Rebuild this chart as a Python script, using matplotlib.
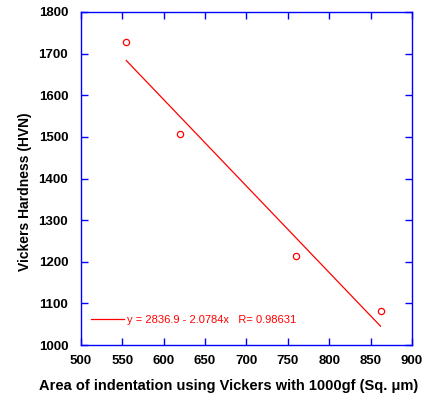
import numpy as np
import matplotlib.pyplot as plt

plt.rcParams['font.family'] = ['Liberation Sans', 'DejaVu Sans']

# measured points
area = [555, 620, 760, 862]
hvn = [1728, 1506, 1215, 1082]

# linear fit shown in the chart
a0 = 2836.9
a1 = 2.0784
r_val = 0.98631
fit_x = np.array([555, 862])
fit_y = a0 - a1 * fit_x

fig = plt.figure(figsize=(4.28, 3.98), dpi=100)
ax = fig.add_axes([0.1886, 0.133, 0.7740, 0.837])

ax.plot(fit_x, fit_y, color='red', lw=0.9,
        label='y = %.1f - %.4fx   R= %.5f' % (a0, a1, r_val))
ax.plot(area, hvn, 'o', mfc='none', mec='red', ms=4.5, mew=0.9)

ax.set_xlim(500, 900)
ax.set_ylim(1000, 1800)
ax.set_xticks(np.arange(500, 901, 50))
ax.set_yticks(np.arange(1000, 1801, 100))

for s in ax.spines.values():
    s.set_color('blue')
    s.set_linewidth(1.0)
ax.tick_params(direction='in', top=True, right=True, length=5, width=1,
               color='blue', labelsize=9.5)
ax.tick_params(axis='x', pad=7)
ax.tick_params(axis='y', pad=9)
for lab in ax.get_xticklabels() + ax.get_yticklabels():
    lab.set_fontweight('bold')

ax.set_xlabel('Area of indentation using Vickers with 1000gf (Sq. \u03bcm)',
              fontsize=10.5, fontweight='bold')
ax.xaxis.set_label_coords(0.446, -0.102)
ax.set_ylabel('Vickers Hardness (HVN)', fontsize=10, fontweight='bold')
ax.yaxis.set_label_coords(-0.147, 0.46)

ax.legend(loc='lower left', frameon=False, labelcolor='red', fontsize=8,
          handlelength=3.0, handletextpad=0.3, bbox_to_anchor=(0.0, 0.03))

fig.savefig('out.png', dpi=100)
